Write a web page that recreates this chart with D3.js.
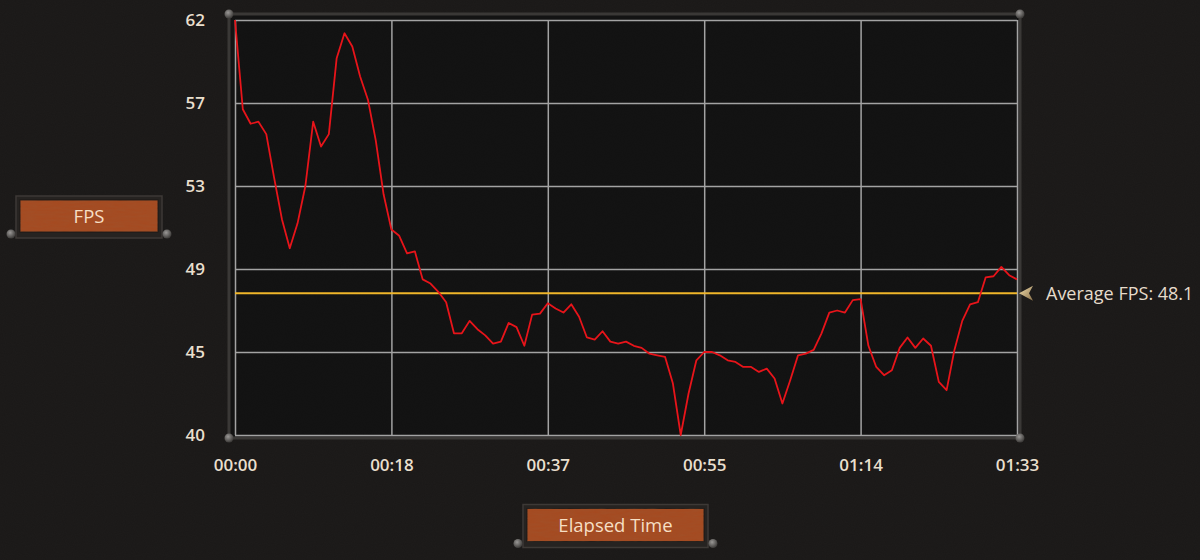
<!DOCTYPE html>
<html>
<head>
<meta charset="utf-8">
<script src="https://cdn.jsdelivr.net/npm/d3@7"></script>
<style>
  html, body { margin: 0; padding: 0; background: #1d1b1a; }
  svg { display: block; }
</style>
</head>
<body>
<svg id="chart" width="1200" height="560"></svg>
<script>
// ---- data ----
const timeTickSeconds = [0, 18.6, 37.2, 55.8, 74.4, 93];
const timeTickLabels = ["00:00", "00:18", "00:37", "00:55", "01:14", "01:33"];
const fpsTickValues = [40, 45, 49, 53, 57, 62];
const fpsTickLabels = ["40", "45", "49", "53", "57", "62"];
const durationSeconds = 93;
const fpsSamples = [
  62.0, 56.7, 56.0, 56.1, 55.5, 53.4, 51.4, 50.0, 51.2, 53.0,
  56.1, 54.9, 55.5, 59.7, 61.2, 60.4, 58.6, 57.2, 55.2, 52.6,
  50.9, 50.6, 49.75, 49.85, 48.5, 48.3, 47.9, 47.4, 45.9, 45.9,
  46.5, 46.1, 45.8, 45.4, 45.5, 46.4, 46.2, 45.3, 46.8, 46.85,
  47.35, 47.1, 46.9, 47.3, 46.7, 45.7, 45.6, 46.0, 45.5, 45.4,
  45.5, 45.3, 45.2, 44.9, 44.8, 44.7, 43.1, 40.0, 42.5, 44.5,
  45.0, 45.0, 44.8, 44.5, 44.4, 44.1, 44.1, 43.8, 44.0, 43.4,
  41.9, 43.3, 44.8, 44.9, 45.1, 45.9, 46.9, 47.0, 46.9, 47.5,
  47.55, 45.3, 44.1, 43.6, 43.9, 45.2, 45.7, 45.2, 45.65, 45.3,
  43.2, 42.7, 45.1, 46.5, 47.3, 47.4, 48.6, 48.65, 49.1, 48.7,
  48.5
];
const averageFps = 48.1;
const averageLineLevel = 47.83; // where the average line sits on the axis
const yAxisTitle = "FPS";
const xAxisTitle = "Elapsed Time";
const averageLabel = "Average FPS: " + averageFps;

// ---- layout ----
const plot = { left: 235, right: 1017, top: 20, bottom: 435 };
const svg = d3.select("#chart");
const FONT = "'Open Sans', 'DejaVu Sans', sans-serif";

const defs = svg.append("defs");
const noise = defs.append("filter").attr("id", "noise").attr("x", 0).attr("y", 0).attr("width", "100%").attr("height", "100%");
noise.append("feTurbulence").attr("type", "fractalNoise").attr("baseFrequency", 0.9).attr("numOctaves", 2).attr("seed", 3).attr("result", "t");
noise.append("feColorMatrix").attr("in", "t").attr("type", "matrix")
  .attr("values", "0 0 0 0 0  0 0 0 0 0  0 0 0 0 0  0 0 0 0.14 0");
const woodNoise = defs.append("filter").attr("id", "wood").attr("x", 0).attr("y", 0).attr("width", "100%").attr("height", "100%");
woodNoise.append("feTurbulence").attr("type", "fractalNoise").attr("baseFrequency", "0.08 0.5").attr("numOctaves", 3).attr("seed", 7).attr("result", "t");
woodNoise.append("feColorMatrix").attr("in", "t").attr("type", "matrix")
  .attr("values", "0 0 0 0 0.3  0 0 0 0 0.12  0 0 0 0 0.05  0 0 0 0.35 0");

const knobGrad = defs.append("radialGradient").attr("id", "knob").attr("cx", "40%").attr("cy", "35%").attr("r", "65%");
knobGrad.append("stop").attr("offset", "0%").attr("stop-color", "#9a9896");
knobGrad.append("stop").attr("offset", "100%").attr("stop-color", "#3c3a38");

const arrowGrad = defs.append("linearGradient").attr("id", "arrowG").attr("x1", 0).attr("x2", 1).attr("y1", 0).attr("y2", 1);
arrowGrad.append("stop").attr("offset", "0%").attr("stop-color", "#f3e0b0");
arrowGrad.append("stop").attr("offset", "100%").attr("stop-color", "#8a7048");

// background
svg.append("rect").attr("width", 1200).attr("height", 560).attr("fill", "#1e1c1b");
svg.append("rect").attr("width", 1200).attr("height", 560).attr("filter", "url(#noise)").attr("fill", "#000");

// ---- scales ----
const x = d3.scaleLinear().domain([0, durationSeconds]).range([plot.left, plot.right]);
const y = d3.scaleLinear()
  .domain(fpsTickValues)
  .range(fpsTickValues.map((d, i) => plot.bottom - i * (plot.bottom - plot.top) / (fpsTickValues.length - 1)));

// outer frame
const fr = { l: plot.left - 6, r: plot.right + 3, t: plot.top - 6, b: plot.bottom + 3 };
svg.append("rect").attr("x", fr.l).attr("y", fr.t).attr("width", fr.r - fr.l).attr("height", fr.b - fr.t)
  .attr("fill", "#131313").attr("stroke", "#3a3836").attr("stroke-width", 3);
svg.append("rect").attr("x", plot.left).attr("y", plot.top)
  .attr("width", plot.right - plot.left).attr("height", plot.bottom - plot.top)
  .attr("fill", "#141414");
svg.append("rect").attr("x", plot.left).attr("y", plot.top)
  .attr("width", plot.right - plot.left).attr("height", plot.bottom - plot.top)
  .attr("filter", "url(#noise)").attr("fill", "#000");

// grid via axes
const gridColor = "#a3a3a3";
const yGrid = svg.append("g").attr("transform", `translate(${plot.left},0)`)
  .call(d3.axisLeft(y).tickValues(fpsTickValues).tickSize(-(plot.right - plot.left)).tickFormat(""));
yGrid.select(".domain").remove();
yGrid.selectAll("line").attr("stroke", gridColor).attr("stroke-width", 1.5);

const xGrid = svg.append("g").attr("transform", `translate(0,${plot.bottom})`)
  .call(d3.axisBottom(x).tickValues(timeTickSeconds).tickSize(-(plot.bottom - plot.top)).tickFormat(""));
xGrid.select(".domain").remove();
xGrid.selectAll("line").attr("stroke", gridColor).attr("stroke-width", 1.5);

// tick labels
const yLabels = svg.append("g").attr("transform", `translate(${plot.left - 30},0)`)
  .call(d3.axisLeft(y).tickValues(fpsTickValues).tickSize(0).tickFormat((d, i) => fpsTickLabels[i]));
yLabels.select(".domain").remove();
yLabels.selectAll("text").attr("fill", "#e9dfcd").attr("font-family", FONT).attr("font-size", 17)
  .attr("font-weight", 600).attr("dx", 0).attr("dy", "0.35em").attr("x", 0);

const xLabels = svg.append("g").attr("transform", `translate(0,${plot.bottom + 23})`)
  .call(d3.axisBottom(x).tickValues(timeTickSeconds).tickSize(0).tickFormat((d, i) => timeTickLabels[i]));
xLabels.select(".domain").remove();
xLabels.selectAll("text").attr("fill", "#e9dfcd").attr("font-family", FONT).attr("font-size", 17)
  .attr("font-weight", 600).attr("y", 0).attr("dy", "0.75em");

// average line
svg.append("line").attr("x1", plot.left).attr("x2", plot.right)
  .attr("y1", y(averageLineLevel)).attr("y2", y(averageLineLevel))
  .attr("stroke", "#f0b62a").attr("stroke-width", 2);

// fps line
const line = d3.line()
  .x((d, i) => x(i * durationSeconds / (fpsSamples.length - 1)))
  .y(d => y(d));
svg.append("path").datum(fpsSamples).attr("d", line)
  .attr("fill", "none").attr("stroke", "#e8141a").attr("stroke-width", 1.8).attr("stroke-linejoin", "round");

// knobs at frame corners
[[fr.l, fr.t], [fr.r, fr.t], [fr.l, fr.b], [fr.r, fr.b]].forEach(([cx, cy]) => {
  svg.append("circle").attr("cx", cx).attr("cy", cy).attr("r", 4.5).attr("fill", "url(#knob)");
});

// average label
const ay = y(averageLineLevel);
svg.append("path")
  .attr("d", `M${plot.right + 2},${ay} L${plot.right + 16},${ay - 7.5} L${plot.right + 12},${ay} L${plot.right + 16},${ay + 7.5} Z`)
  .attr("fill", "url(#arrowG)");
svg.append("text").attr("x", plot.right + 29).attr("y", ay).attr("dy", "0.35em")
  .attr("fill", "#e6dccb").attr("font-family", FONT).attr("font-size", 18).attr("font-weight", 500)
  .text(averageLabel);

// title plaques
function plaque(cx, cy, w, h, label) {
  const g = svg.append("g");
  g.append("rect").attr("x", cx - w / 2 - 4).attr("y", cy - h / 2 - 4).attr("width", w + 8).attr("height", h + 10)
    .attr("fill", "#262321").attr("stroke", "#3d3936").attr("stroke-width", 1.5);
  g.append("rect").attr("x", cx - w / 2).attr("y", cy - h / 2).attr("width", w).attr("height", h)
    .attr("fill", "#a6491f").attr("stroke", "#1c1917").attr("stroke-width", 1);
  g.append("rect").attr("x", cx - w / 2).attr("y", cy - h / 2).attr("width", w).attr("height", h)
    .attr("fill", "#000").attr("filter", "url(#wood)").attr("opacity", 0.8);
  g.append("circle").attr("cx", cx - w / 2 - 9).attr("cy", cy + h / 2 + 2).attr("r", 4.5).attr("fill", "url(#knob)");
  g.append("circle").attr("cx", cx + w / 2 + 9).attr("cy", cy + h / 2 + 2).attr("r", 4.5).attr("fill", "url(#knob)");
  g.append("text").attr("x", cx).attr("y", cy).attr("dy", "0.36em").attr("text-anchor", "middle")
    .attr("fill", "#f6dfc4").attr("font-family", FONT).attr("font-size", 18.5).attr("font-weight", 500)
    .text(label);
}
plaque(89, 216, 138, 32, yAxisTitle);
plaque(615.5, 525, 177, 33, xAxisTitle);
</script>
</body>
</html>
